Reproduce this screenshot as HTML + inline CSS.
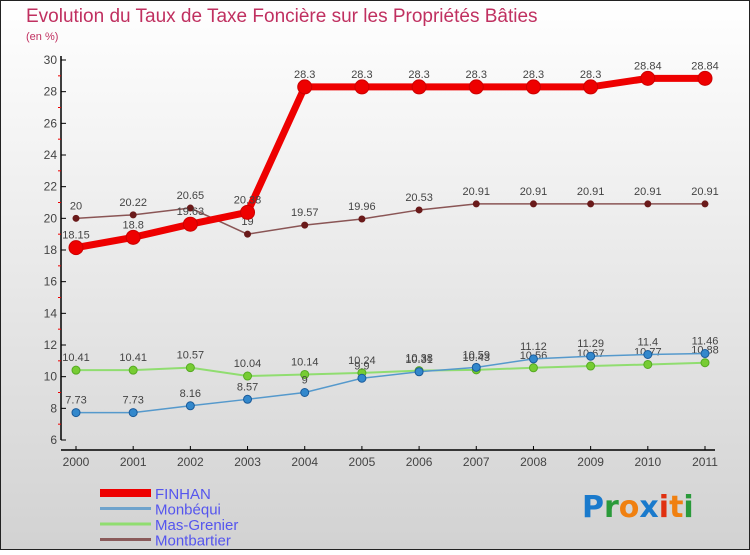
<!DOCTYPE html>
<html><head><meta charset="utf-8"><style>
body{margin:0}
#c{width:750px;height:550px;position:relative;font-family:"Liberation Sans",sans-serif}
</style></head><body>
<div id="c">
<svg id="s" width="750" height="550" xmlns="http://www.w3.org/2000/svg">
<defs><linearGradient id="bg" x1="0" y1="0" x2="0" y2="1"><stop offset="0" stop-color="#ffffff"/><stop offset="1" stop-color="#d2d2d2"/></linearGradient></defs>
<rect x="0.5" y="0.5" width="749" height="549" fill="url(#bg)" stroke="#222"/>
<text x="26" y="22" font-size="19" fill="#c03060">Evolution du Taux de Taxe Foncière sur les Propriétés Bâties</text>
<text x="26" y="40" font-size="11" fill="#c03060">(en %)</text>
<g id="axes"></g><g id="series"></g><g id="legend"></g>
<g font-size="30" font-weight="bold" font-family="DejaVu Sans, sans-serif">
<text x="582" y="517"><tspan fill="#1a7acc">P</tspan><tspan fill="#2a9a3a">r</tspan><tspan fill="#f08010">o</tspan><tspan fill="#1a7acc">x</tspan><tspan fill="#e03010">i</tspan><tspan fill="#f08010">t</tspan><tspan fill="#2a9a3a">i</tspan></text></g>
</svg></div>
<script>
const years=["2000","2001","2002","2003","2004","2005","2006","2007","2008","2009","2010","2011"];
const yTicks=[6,8,10,12,14,16,18,20,22,24,26,28,30];
const finhan=[18.15,18.8,19.63,20.38,28.3,28.3,28.3,28.3,28.3,28.3,28.84,28.84];
const monbequi=[7.73,7.73,8.16,8.57,9,9.9,10.31,10.59,11.12,11.29,11.4,11.46];
const masGrenier=[10.41,10.41,10.57,10.04,10.14,10.24,10.38,10.43,10.56,10.67,10.77,10.88];
const montbartier=[20,20.22,20.65,19,19.57,19.96,20.53,20.91,20.91,20.91,20.91,20.91];
const NS="http://www.w3.org/2000/svg";
const X=i=>76+i*(705-76)/11;
const Y=v=>60+(30-v)*(440-60)/24;
function mk(tag,attrs,parent,txt){const e=document.createElementNS(NS,tag);for(const k in attrs)e.setAttribute(k,attrs[k]);if(txt!==undefined)e.textContent=txt;parent.appendChild(e);return e;}
const ax=document.getElementById('axes');
let e=mk('line',{x1:61,y1:56,x2:61,y2:440,stroke:'#000','stroke-width':1.5},ax);


e=mk('line',{x1:61,y1:450,x2:715,y2:450,stroke:'#000','stroke-width':1.5},ax);


yTicks.forEach((t,i)=>{
 mk('line',{x1:61,y1:Y(t),x2:66,y2:Y(t),stroke:'#000'},ax);
 if(i<yTicks.length-1) mk('line',{x1:58,y1:Y(t+1),x2:61,y2:Y(t+1),stroke:'#e00'},ax);
 const l=mk('text',{x:57,y:Y(t)+4,'font-size':12,fill:'#444','text-anchor':'end'},ax,String(t));
 
 
});
years.forEach((y,i)=>{
 mk('line',{x1:X(i),y1:446,x2:X(i),y2:450,stroke:'#000'},ax);
 const l=mk('text',{x:X(i),y:466,'font-size':12,fill:'#444','text-anchor':'middle'},ax,y);
 
 
});
const sg=document.getElementById('series');
function series(data,color,w,r,fill,name,stroke){
 const g=mk('g',{},sg);
 
 
 mk('polyline',{points:data.map((v,i)=>X(i)+','+Y(v)).join(' '),fill:'none',stroke:color,'stroke-width':w},g);
 data.forEach((v,i)=>{
  const c=mk('circle',{cx:X(i),cy:Y(v),r:r,fill:fill,stroke:stroke,'stroke-width':1},g);
  
  
  const t=mk('text',{x:X(i),y:Y(v)-9,'font-size':11,fill:'#444','text-anchor':'middle'},g,String(v));
  
  
 });
}
series(montbartier,'#8a5555',1.5,3,'#6a1a1a','montbartier-series','#6a1a1a');
series(masGrenier,'#90dd70',2,4,'#77cc33','mas-grenier-series','#55aa22');
series(monbequi,'#5599cc',1.5,4,'#3388cc','monbequi-series','#1a5a99');
series(finhan,'#ee0000',7,7,'#ee0000','finhan-series','#cc0000');
const lg=document.getElementById('legend');
const leg=[["FINHAN","#ee0000",8],["Monbéqui","#6fa3cc",3],["Mas-Grenier","#90dd70",3],["Montbartier","#8a5a5a",3]];
leg.forEach((d,i)=>{
 const yy=493+i*15.5;
 const g=mk('g',{},lg);
 
 
 mk('line',{x1:100,y1:yy,x2:151,y2:yy,stroke:d[1],'stroke-width':d[2]},g);
 mk('text',{x:155,y:yy+6,'font-size':15,fill:'#5555ee'},g,d[0]);
});
</script>
</body></html>
